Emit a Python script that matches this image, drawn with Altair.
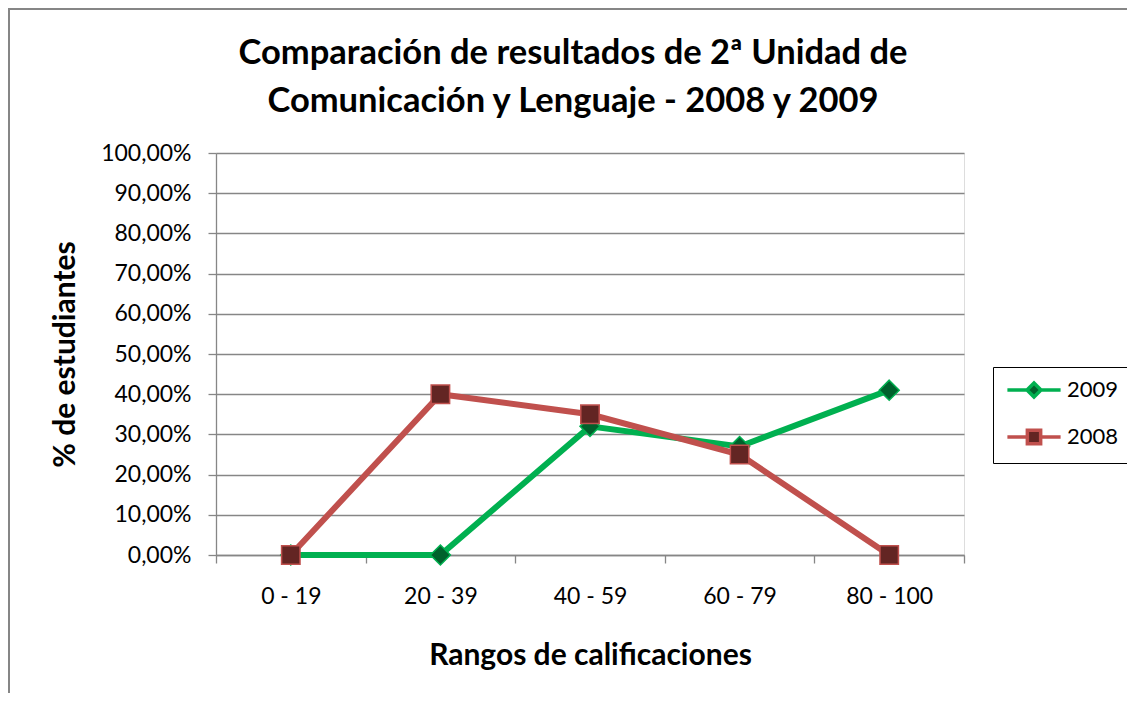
import altair as alt
import pandas as pd

categories = ["0 - 19", "20 - 39", "40 - 59", "60 - 79", "80 - 100"]
series_names = ["2009", "2008"]
values_2009 = [0.0, 0.0, 0.32, 0.27, 0.41]
values_2008 = [0.0, 0.40, 0.35, 0.25, 0.0]

title_lines = ["Comparación de resultados de 2ª Unidad de",
               "Comunicación y Lenguaje - 2008 y 2009"]
x_title = "Rangos de calificaciones"
y_title = "% de estudiantes"
y_ticks = [i / 10 for i in range(11)]

rows = []
for name, vals in zip(series_names, [values_2009, values_2008]):
    for c, v in zip(categories, vals):
        rows.append({"rango": c, "pct": v, "serie": name})
df = pd.DataFrame(rows)

FONT = "Lato"
line_colors = ["#00B050", "#C0504D"]
fill_colors = ["#00612C", "#632523"]
marker_shapes = ["M0,-1L1,0L0,1L-1,0Z", "square"]
marker_sizes = [400, 340]
legend_shapes = ["M-3.8,0L-1,0M1,0L3.8,0M0,-1L1,0L0,1L-1,0Z",
                 "M-3.8,0L-0.95,0M0.95,0L3.8,0M-0.95,-0.95L0.95,-0.95L0.95,0.95L-0.95,0.95Z"]

x_enc = alt.X("rango:N", sort=categories, bandPosition=0.5,
              scale=alt.Scale(type="band", paddingInner=0, paddingOuter=0),
              axis=alt.Axis(title=x_title, labelAngle=0, tickBand="extent",
                            titleFontSize=30, titleFontWeight="bold", titleFont=FONT,
                            titleY=100, titleBaseline="middle",
                            labelFontSize=23, labelFont=FONT, labelPadding=22,
                            labelColor="black", titleColor="black",
                            domainColor="#868686", domainWidth=1.3,
                            tickColor="#868686", tickWidth=1.3, tickSize=8))
y_enc = alt.Y("pct:Q", scale=alt.Scale(domain=[0, 1]),
              axis=alt.Axis(title=y_title, values=y_ticks,
                            labelExpr="replace(format(datum.value, '.2%'), '.', ',')",
                            titleFontSize=30, titleFontWeight="bold", titleFont=FONT,
                            titleX=-151, titleY=201, titleBaseline="middle", titleAngle=-90,
                            labelFontSize=23, labelFont=FONT, labelPadding=17,
                            labelColor="black", titleColor="black",
                            grid=True, gridColor="#868686", gridWidth=1.3,
                            domainColor="#868686", domainWidth=1.3,
                            tickColor="#868686", tickWidth=1.3, tickSize=8))

legend = alt.Legend(
    title=None, orient="none", legendX=777, legendY=214,
    labelFont=FONT, labelFontSize=22, labelColor="black",
    symbolSize=196, symbolStrokeWidth=3.5, symbolOpacity=1,
    rowPadding=19, padding=12, symbolOffset=18, labelOffset=22,
    strokeColor="black", fillColor="white",
)

border = alt.Chart(pd.DataFrame({"k": [0]})).mark_rect(
    fill="white", fillOpacity=0, stroke="#868686", strokeWidth=2, clip=False
).encode(x=alt.value(-207), x2=alt.value(1200), y=alt.value(-144), y2=alt.value(800))

layers = [border]
for i, name in enumerate(series_names):
    sub = alt.Chart(df).transform_filter(alt.datum.serie == name)
    layers.append(sub.mark_line(strokeWidth=6, color=line_colors[i]).encode(x=x_enc, y=y_enc))
    layers.append(sub.mark_point(filled=True, opacity=1, strokeWidth=1.5,
                                 shape=marker_shapes[i], size=marker_sizes[i],
                                 fill=fill_colors[i], stroke=line_colors[i]).encode(
        x=x_enc, y=y_enc))

# invisible layer that only carries the legend
leg_layer = alt.Chart(df).mark_point(filled=True, opacity=0, size=196).encode(
    x=x_enc, y=y_enc,
    shape=alt.Shape("serie:N", scale=alt.Scale(domain=series_names, range=legend_shapes), legend=legend),
    fill=alt.Fill("serie:N", scale=alt.Scale(domain=series_names, range=fill_colors), legend=legend),
    stroke=alt.Stroke("serie:N", scale=alt.Scale(domain=series_names, range=line_colors), legend=legend),
)
layers.append(leg_layer)

chart = alt.layer(*layers).properties(
    width=748, height=402,
    title=alt.Title(title_lines, font=FONT, fontSize=34.5, fontWeight="bold",
                    color="black", anchor="middle", dx=-17, offset=-111,
                    baseline="top", lineHeight=48),
    autosize=alt.AutoSizeParams(type="none"),
    padding={"left": 208, "top": 145, "right": 163, "bottom": 138},
).configure_view(stroke=None).configure(background="white")

chart.save("out.html", embed_options={"renderer": "svg", "actions": False})
